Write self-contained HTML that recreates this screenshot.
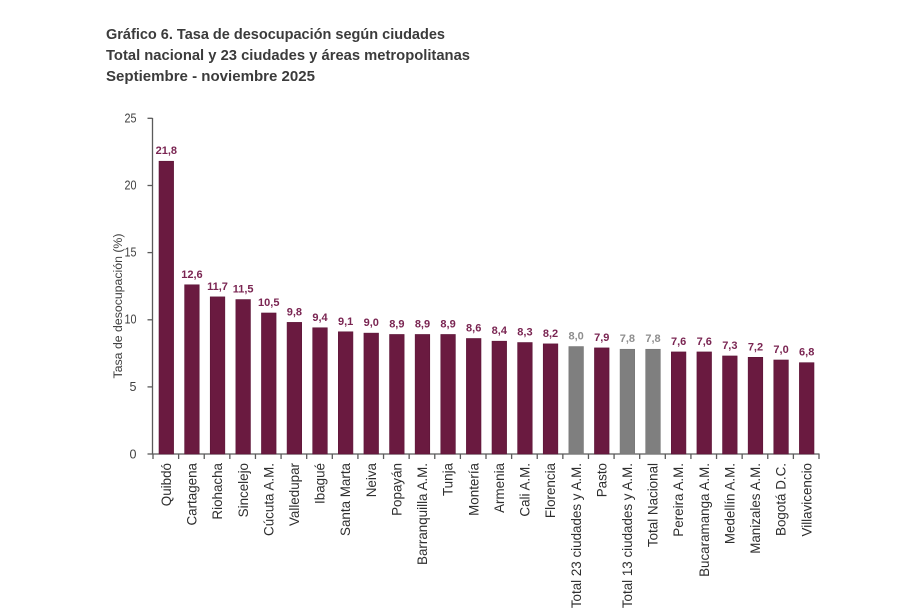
<!DOCTYPE html>
<html><head><meta charset="utf-8"><style>
html,body{margin:0;padding:0;background:#fff;}
svg{display:block;}
</style></head><body>
<svg width="921" height="609" viewBox="0 0 921 609" xmlns="http://www.w3.org/2000/svg" font-family="'Liberation Sans', Arial, sans-serif">
<rect width="921" height="609" fill="#fff"/>
<g fill="#3b3b3b" font-weight="bold" font-size="14.5">
<text x="106" y="39" textLength="339" lengthAdjust="spacingAndGlyphs">Gráfico 6. Tasa de desocupación según ciudades</text>
<text x="106" y="60" textLength="364" lengthAdjust="spacingAndGlyphs">Total nacional y 23 ciudades y áreas metropolitanas</text>
<text x="106" y="81" textLength="209" lengthAdjust="spacingAndGlyphs">Septiembre - noviembre 2025</text>
</g>
<text transform="translate(122,306) rotate(-90)" text-anchor="middle" font-size="12.3" fill="#404040">Tasa de desocupación (%)</text>
<g font-size="12.5" fill="#404040" text-anchor="end">
<text x="136.5" y="122.5" textLength="12" lengthAdjust="spacingAndGlyphs">25</text>
<text x="136.5" y="189.5" textLength="12" lengthAdjust="spacingAndGlyphs">20</text>
<text x="136.5" y="256.5" textLength="12" lengthAdjust="spacingAndGlyphs">15</text>
<text x="136.5" y="323.5" textLength="12" lengthAdjust="spacingAndGlyphs">10</text>
<text x="136.5" y="391">5</text>
<text x="136.5" y="458.5">0</text>
</g>
<g stroke="#5a5a5a" stroke-width="1.3" fill="none">
<line x1="152.5" y1="118" x2="152.5" y2="454"/>
<line x1="147.5" y1="118.3" x2="152.5" y2="118.3"/>
<line x1="147.5" y1="185.5" x2="152.5" y2="185.5"/>
<line x1="147.5" y1="252.6" x2="152.5" y2="252.6"/>
<line x1="147.5" y1="319.8" x2="152.5" y2="319.8"/>
<line x1="147.5" y1="386.9" x2="152.5" y2="386.9"/>
<line x1="147.5" y1="454" x2="152.5" y2="454"/>
<line x1="152.5" y1="454" x2="819.5" y2="454"/>
</g>
<g id="chart"></g>
<script>
(function(){
var names=["Quibdó","Cartagena","Riohacha","Sincelejo","Cúcuta A.M.","Valledupar","Ibagué","Santa Marta","Neiva","Popayán","Barranquilla A.M.","Tunja","Montería","Armenia","Cali A.M.","Florencia","Total 23 ciudades y A.M.","Pasto","Total 13 ciudades y A.M.","Total Nacional","Pereira A.M.","Bucaramanga A.M.","Medellín A.M.","Manizales A.M.","Bogotá D.C.","Villavicencio"];
var vals=[21.8,12.6,11.7,11.5,10.5,9.8,9.4,9.1,9.0,8.9,8.9,8.9,8.6,8.4,8.3,8.2,8.0,7.9,7.8,7.8,7.6,7.6,7.3,7.2,7.0,6.8];
var grey={16:1,18:1,19:1};
var ns="http://www.w3.org/2000/svg";
var g=document.getElementById("chart");
var x0=153,step=666/26,y0=454,k=13.43,bw=14.6;
function el(t,a,txt){var e=document.createElementNS(ns,t);for(var p in a)e.setAttribute(p,a[p]);if(txt!==undefined)e.textContent=txt;g.appendChild(e);return e;}
for(var i=0;i<=26;i++){var tx=x0+i*step;el("line",{x1:tx,y1:454,x2:tx,y2:459,stroke:"#5a5a5a","stroke-width":"1.3"});}
for(var i=0;i<26;i++){
 var cx=x0+(i+0.5)*step+0.5;
 var h=vals[i]*k;
 var gr=grey[i];
 el("rect",{x:cx-bw/2,y:y0-h,width:bw,height:h,fill:gr?"#7f7f7f":"#6a1a40",stroke:gr?"#767676":"#5c1537","stroke-width":"0.6"});
 el("text",{x:cx,y:y0-h-7,"text-anchor":"middle","font-size":"11","font-weight":"bold",fill:gr?"#8e8e8e":"#7a2552"},vals[i].toFixed(1).replace(".",","));
 el("text",{transform:"translate("+(cx+4.6)+",463) rotate(-90)","text-anchor":"end","font-size":"13.4",fill:"#2e2e2e"},names[i]);
}
})();
</script>
</svg>
</body></html>
